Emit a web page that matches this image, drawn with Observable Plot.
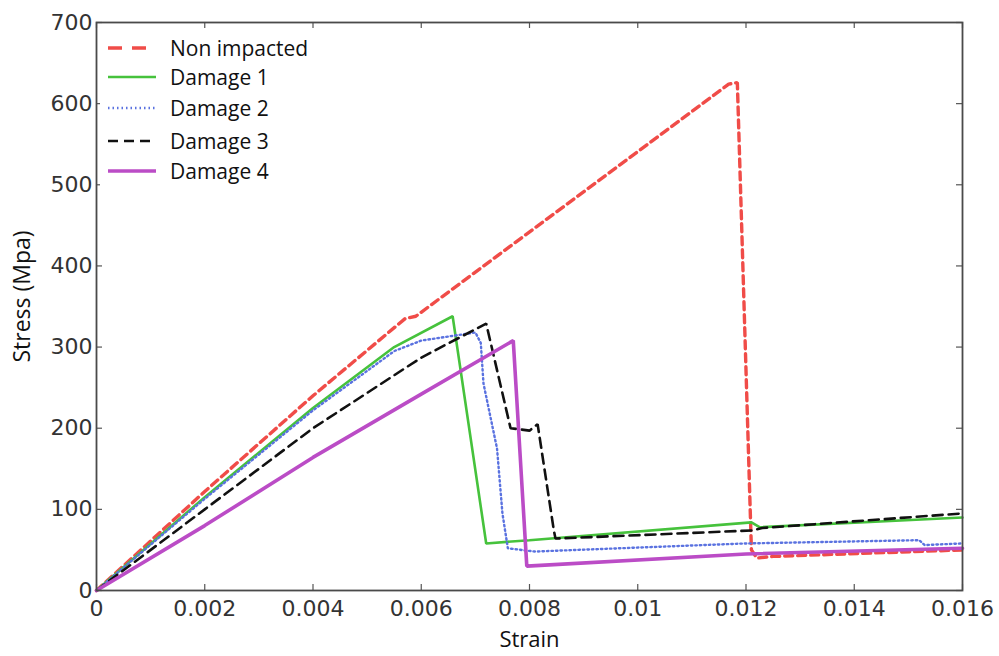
<!DOCTYPE html>
<html>
<head>
<meta charset="utf-8">
<script src="https://cdn.jsdelivr.net/npm/d3@7"></script>
<script src="https://cdn.jsdelivr.net/npm/@observablehq/plot@0.6"></script>
<style>
  html, body { margin: 0; padding: 0; background: #fff; }
  #wrap { position: relative; width: 999px; height: 656px; }
  #legend { position: absolute; left: 100px; top: 30px; width: 225px; height: 158px; background: #fff;
            font-family: "Open Sans", sans-serif; font-size: 21px; color: #111; }
  .row { position: absolute; left: 0; height: 30px; display: flex; align-items: center; }
  .row svg { margin-left: 6px; margin-right: 12px; }
</style>
</head>
<body>
<div id="wrap"><div id="chart"></div><div id="legend"></div></div>
<script>
// ---- data ----
const seriesNames = ["Non impacted", "Damage 1", "Damage 2", "Damage 3", "Damage 4"];

const nonImpactedStrain = [0, 0.002, 0.004, 0.0057, 0.0059, 0.01168, 0.01184, 0.0121, 0.0122, 0.0125, 0.016];
const nonImpactedStress = [0, 122, 240, 335, 338, 624, 626, 50, 40, 42, 50];

const damage1Strain = [0, 0.002, 0.004, 0.0055, 0.00658, 0.0072, 0.0080, 0.0121, 0.01225, 0.016];
const damage1Stress = [0, 115, 225, 300, 338, 58, 62, 84, 78, 90];

const damage2Strain = [0, 0.002, 0.004, 0.0055, 0.0060, 0.0070, 0.0071, 0.00715, 0.0074, 0.0075, 0.0076, 0.0081, 0.012, 0.0152, 0.0153, 0.016];
const damage2Stress = [0, 113, 222, 295, 308, 318, 305, 255, 175, 95, 52, 48, 58, 62, 56, 58];

const damage3Strain = [0, 0.002, 0.004, 0.006, 0.0072, 0.00765, 0.0080, 0.00815, 0.00845, 0.00848, 0.0121, 0.0123, 0.016];
const damage3Stress = [0, 100, 200, 287, 329, 200, 197, 205, 74, 64, 74, 77, 95];

const damage4Strain = [0, 0.002, 0.004, 0.006, 0.0077, 0.00795, 0.012, 0.016];
const damage4Stress = [0, 80, 164, 242, 308, 30, 45, 52];

const xTicks = [0, 0.002, 0.004, 0.006, 0.008, 0.01, 0.012, 0.014, 0.016];
const xTickLabels = ["0", "0.002", "0.004", "0.006", "0.008", "0.01", "0.012", "0.014", "0.016"];
const yTicks = [0, 100, 200, 300, 400, 500, 600, 700];
const yTickLabels = ["0", "100", "200", "300", "400", "500", "600", "700"];

// ---- styles ----
const styles = {
  "Non impacted": {stroke: "#f04c48", strokeWidth: 3.4, strokeDasharray: "8,5"},
  "Damage 1": {stroke: "#46c23c", strokeWidth: 2.6, strokeDasharray: null},
  "Damage 2": {stroke: "#5a72e0", strokeWidth: 2.4, strokeDasharray: "1.5,3"},
  "Damage 3": {stroke: "#111111", strokeWidth: 2.6, strokeDasharray: "10,6"},
  "Damage 4": {stroke: "#bb4cc6", strokeWidth: 3.6, strokeDasharray: null}
};

const pairs = [
  [nonImpactedStrain, nonImpactedStress],
  [damage1Strain, damage1Stress],
  [damage2Strain, damage2Stress],
  [damage3Strain, damage3Stress],
  [damage4Strain, damage4Stress]
];
const tables = pairs.map(([xs, ys], k) => xs.map((x, i) => ({strain: x, stress: ys[i], series: seriesNames[k]})));

const W = 999, H = 656, mL = 96, mR = 37, mT = 22, mB = 66;
const plotW = W - mL - mR, plotH = H - mT - mB;
const tickLen = 6;
const xLab = new Map(xTicks.map((t, i) => [t, xTickLabels[i]]));
const yLab = new Map(yTicks.map((t, i) => [t, yTickLabels[i]]));

const lineMarks = [0, 1, 2, 3, 4].map(k => {
  const s = styles[seriesNames[k]];
  const o = {x: "strain", y: "stress", stroke: s.stroke, strokeWidth: s.strokeWidth, strokeLinejoin: "miter"};
  if (s.strokeDasharray) o.strokeDasharray = s.strokeDasharray;
  return Plot.line(tables[k], o);
});

const chart = Plot.plot({
  width: W, height: H,
  marginLeft: mL, marginRight: mR, marginTop: mT, marginBottom: mB,
  x: {domain: [0, 0.016]},
  y: {domain: [0, 700]},
  style: {background: "#fff"},
  marks: [
    Plot.axisX(xTicks, {tickSize: 0, tickPadding: 10, tickFormat: d => xLab.get(d), fontSize: 22,
      fontFamily: "DejaVu Sans", fill: "#333", label: null}),
    Plot.axisY(yTicks, {tickSize: 0, tickPadding: 4, tickFormat: d => yLab.get(d), fontSize: 22,
      fontFamily: "DejaVu Sans", fill: "#333", label: null}),
    ...lineMarks,
    Plot.tickX(xTicks, {x: d => d, insetTop: plotH - tickLen, stroke: "#555", strokeWidth: 1.2}),
    Plot.tickX(xTicks, {x: d => d, insetBottom: plotH - tickLen, stroke: "#555", strokeWidth: 1.2}),
    Plot.tickY(yTicks, {y: d => d, insetRight: plotW - tickLen, stroke: "#555", strokeWidth: 1.2}),
    Plot.tickY(yTicks, {y: d => d, insetLeft: plotW - tickLen, stroke: "#555", strokeWidth: 1.2}),
    Plot.frame({stroke: "#4a4a4a", strokeWidth: 1.8}),
    Plot.text(["Strain"], {frameAnchor: "bottom", dy: 56, fontSize: 22, fontFamily: "Open Sans", fill: "#111"}),
    Plot.text(["Stress (Mpa)"], {frameAnchor: "left", textAnchor: "middle", dx: -74, dy: -10, rotate: -90,
      fontSize: 23, fontFamily: "Open Sans", fill: "#111"})
  ]
});
document.getElementById("chart").appendChild(chart);

// ---- legend ----
const legend = document.getElementById("legend");
const rowTops = [3, 32, 63, 96, 126];
seriesNames.forEach((name, k) => {
  const s = styles[name];
  const row = document.createElement("div");
  row.className = "row";
  row.style.top = rowTops[k] + "px";
  const dash = s.strokeDasharray ? (name === "Non impacted" ? "14,10" : s.strokeDasharray) : "";
  row.innerHTML = `<svg width="52" height="10"><line x1="2" y1="5" x2="50" y2="5" stroke="${s.stroke}" stroke-width="${s.strokeWidth}" ${dash ? `stroke-dasharray="${dash}"` : ""}/></svg><span>${name}</span>`;
  legend.appendChild(row);
});
</script>
</body>
</html>
